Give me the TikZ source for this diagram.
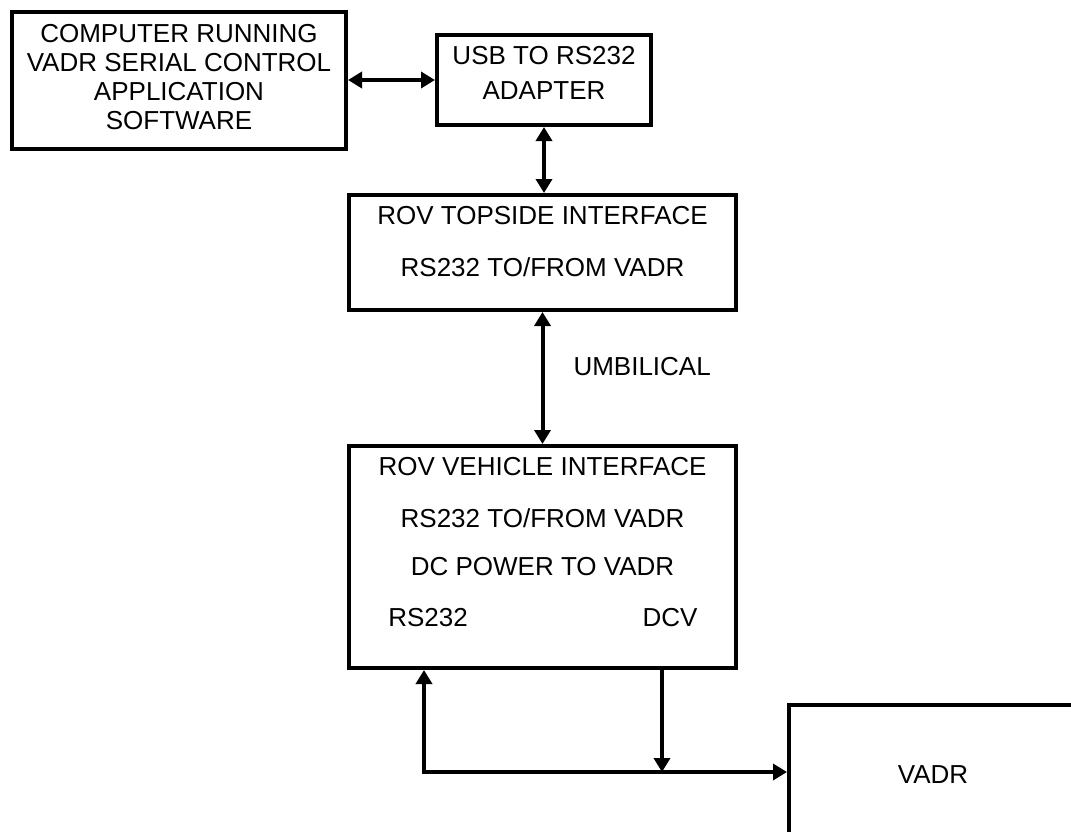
\documentclass[tikz,border=0pt]{standalone}
\usepackage{fontspec}
\setmainfont{Liberation Sans}
\usetikzlibrary{arrows.meta,positioning}

\tikzset{
    block/.style={draw, line width=4pt, inner sep=0pt, align=center},
    tip/.tip={Triangle[length=14pt,width=16pt]},
    link/.style={line width=4pt, tip-tip},
    feed/.style={line width=4pt},
}

\begin{document}
\begin{tikzpicture}[x=1pt, y=-1pt, font=\fontsize{26}{29}\selectfont]
\clip (0,0) rectangle (1071,831);
\fill[white] (0,0) rectangle (1071,831);

\node[block, minimum width=334pt, minimum height=137pt] (pc) at (179,80.5) {};
\node[align=center] (pctext) at (179,77.5)
    {COMPUTER RUNNING\\VADR SERIAL CONTROL\\APPLICATION\\SOFTWARE};

\node[block, minimum width=214pt, minimum height=90pt] (usb) at (544,80) {};
\node (usb1) at (544,56) {USB TO RS232};
\node (usb2) at (544,91) {ADAPTER};

\node[block, minimum width=387pt, minimum height=115pt] (top) at (542.5,252.5) {};
\node (top1) at (542.5,216) {ROV TOPSIDE INTERFACE};
\node (top2) at (542.5,267) {RS232 TO/FROM VADR};

\node[block, minimum width=387pt, minimum height=222pt] (veh) at (542.5,557) {};
\node (veh1) at (542.5,467) {ROV VEHICLE INTERFACE};
\node (veh2) at (542.5,518) {RS232 TO/FROM VADR};
\node (veh3) at (542.5,567) {DC POWER TO VADR};
\node (rs) at (428,618) {RS232};
\node (dcv) at (670,618) {DCV};

\node[block, minimum width=288pt, minimum height=134pt] (vadr) at (933,772) {};
\node (vadrtext) at (933,775) {VADR};

\draw[link] (pc.east |- usb) -- (usb.west);
\draw[link] (usb.south) -- (usb.south |- top.north);
\draw[link] (top) -- (veh);
\node[anchor=west] (umb) at (570,367) {UMBILICAL};

\coordinate (rsx) at (424,0);
\coordinate (dcx) at (662,0);
\draw[feed, tip-tip] (veh.south -| rsx) |- (vadr.west);
\draw[feed, -tip] (veh.south -| dcx) -- (dcx |- vadr.west);

\end{tikzpicture}
\end{document}
